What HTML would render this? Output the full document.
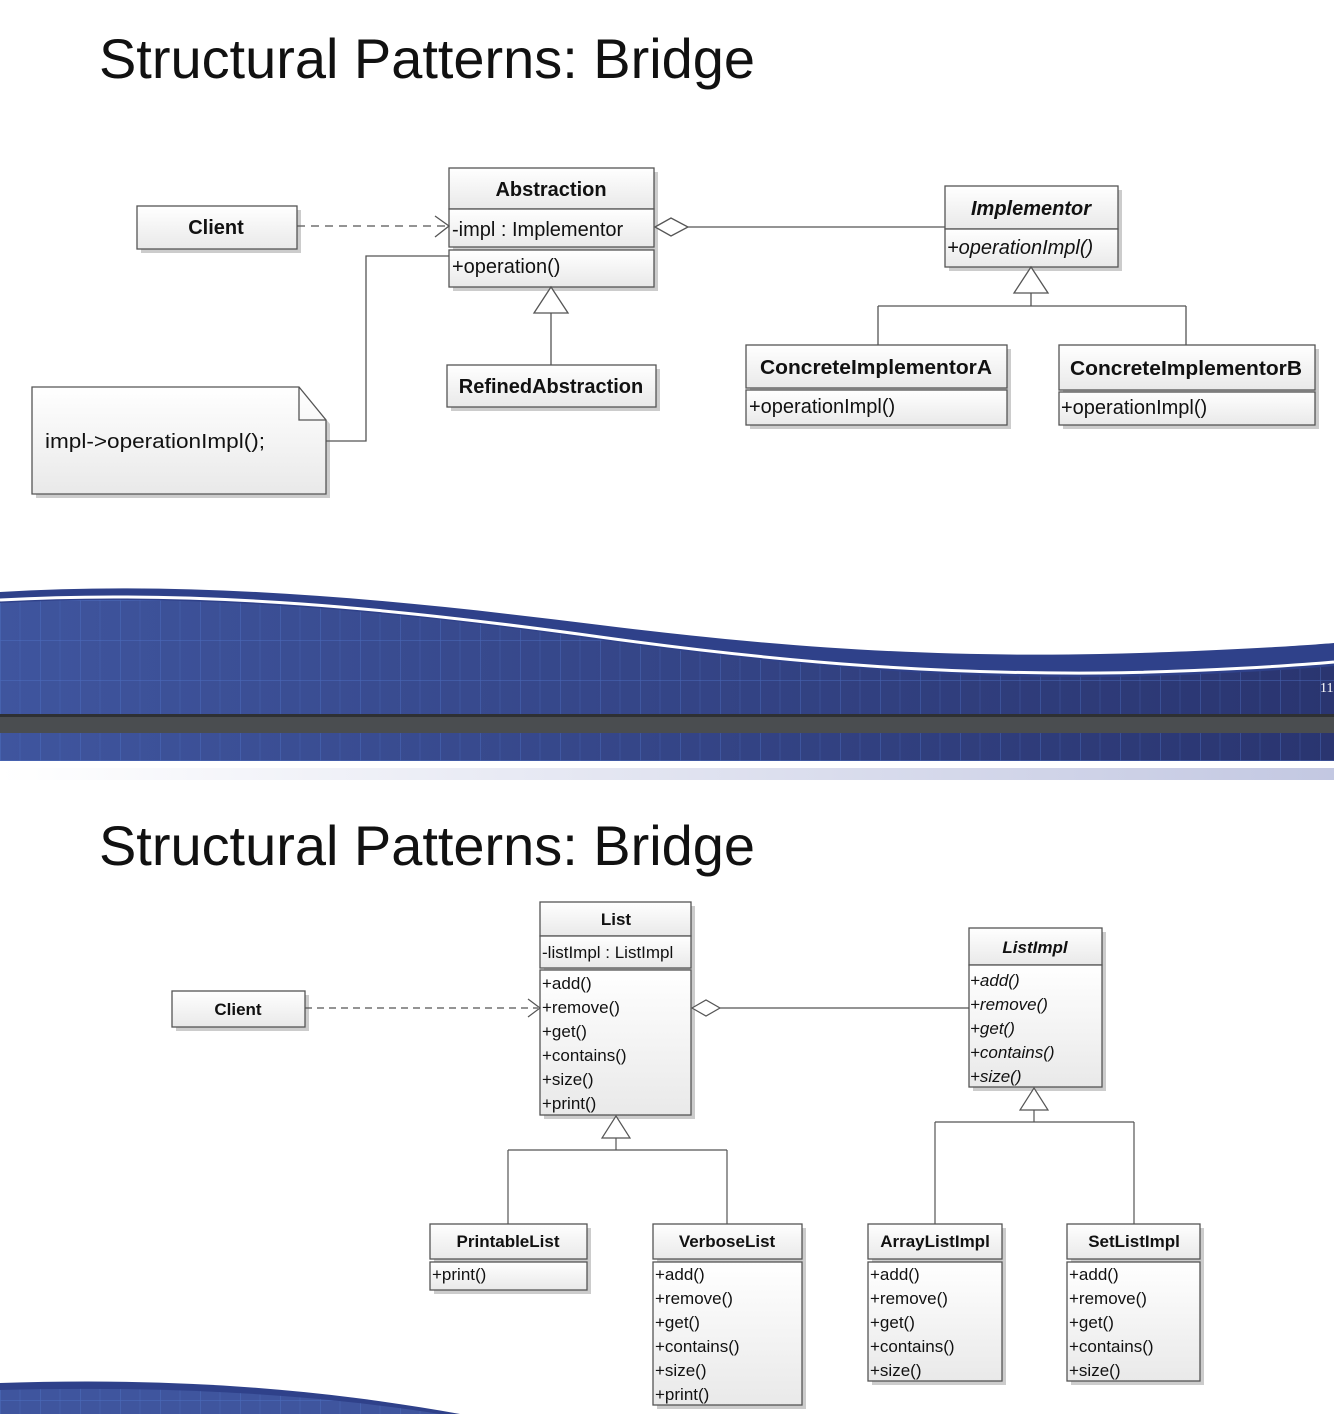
<!DOCTYPE html>
<html><head><meta charset="utf-8"><style>
html,body{margin:0;padding:0;background:#fff}
svg{display:block}
text{font-family:"Liberation Sans",sans-serif;fill:#111}
.b{font-weight:bold}
.i{font-style:italic}
</style></head><body>
<svg width="1334" height="1414" viewBox="0 0 1334 1414" xmlns="http://www.w3.org/2000/svg">
<defs>
<linearGradient id="bx" x1="0" y1="0" x2="0" y2="1"><stop offset="0" stop-color="#ffffff"/><stop offset="1" stop-color="#e9e9e9"/></linearGradient>
<linearGradient id="blu" x1="0" y1="0" x2="1" y2="0"><stop offset="0" stop-color="#3f559e"/><stop offset="1" stop-color="#2a3570"/></linearGradient>
<linearGradient id="fade" x1="0" y1="0" x2="1" y2="0"><stop offset="0" stop-color="#fff"/><stop offset="1" stop-color="#c3c8e2"/></linearGradient>
<pattern id="grid" width="40" height="40" patternUnits="userSpaceOnUse"><path d="M0 0V40M0 0H40" stroke="#5277cc" stroke-width="1.2" fill="none" opacity="0.6"/><path d="M20 0V40" stroke="#5277cc" stroke-width="0.6" fill="none" opacity="0.4"/></pattern>
</defs>

<text x="99" y="78" font-size="56" textLength="656" lengthAdjust="spacingAndGlyphs">Structural Patterns: Bridge</text>
<text x="99" y="865" font-size="56" textLength="656" lengthAdjust="spacingAndGlyphs">Structural Patterns: Bridge</text>

<path d="M0,592 C200,580 400,600 600,625 C800,650 950,657 1100,654 C1200,652 1300,646 1334,643 L1334,761 L0,761 Z" fill="#2f418a"/>
<path d="M0,603 C200,592 400,612 600,640 C800,668 950,678 1100,677 C1200,676 1300,669 1334,666 L1334,761 L0,761 Z" fill="url(#blu)"/>
<path d="M0,603 C200,592 400,612 600,640 C800,668 950,678 1100,677 C1200,676 1300,669 1334,666 L1334,761 L0,761 Z" fill="url(#grid)"/>
<path d="M0,600 C200,589 400,609 600,637 C800,665 950,674 1100,673 C1200,672 1300,665 1334,662" stroke="#fff" stroke-width="3" fill="none"/>
<rect x="0" y="714" width="1334" height="19" fill="#4a4d50"/>
<rect x="0" y="714" width="1334" height="3" fill="#2e3033"/>
<rect x="0" y="768" width="1334" height="12" fill="url(#fade)"/>
<text x="1320" y="692" font-size="14" style="font-family:'Liberation Serif',serif;fill:#fff">11</text>

<path d="M0,1383 C150,1378 300,1385 460,1414 L0,1414 Z" fill="#2f418a"/>
<path d="M0,1390 C150,1386 300,1392 440,1414 L0,1414 Z" fill="#3f559e"/>
<path d="M0,1390 C150,1386 300,1392 440,1414 L0,1414 Z" fill="url(#grid)"/>

<g stroke="#555" stroke-width="1.3" fill="url(#bx)">
<g fill="#ccc" stroke="none">
<rect x="141" y="210" width="160" height="43"/>
<rect x="453" y="172" width="205" height="119"/>
<rect x="949" y="190" width="173" height="81"/>
<rect x="451" y="369" width="209" height="42"/>
<rect x="750" y="349" width="261" height="80"/>
<rect x="1063" y="349" width="256" height="80"/>
<path d="M36,391 H303 L330,424 V498 H36 Z"/>
</g>
<rect x="137" y="206" width="160" height="43"/>
<rect x="449" y="168" width="205" height="41"/>
<rect x="449" y="209" width="205" height="38"/>
<rect x="449" y="250" width="205" height="37"/>
<rect x="945" y="186" width="173" height="43"/>
<rect x="945" y="229" width="173" height="38"/>
<rect x="447" y="365" width="209" height="42"/>
<rect x="746" y="345" width="261" height="43"/>
<rect x="746" y="390" width="261" height="35"/>
<rect x="1059" y="345" width="256" height="45"/>
<rect x="1059" y="392" width="256" height="33"/>
<path d="M32,387 H299 L326,420 V494 H32 Z"/>
<path d="M299,387 V420 H326" fill="none"/>
</g>

<g stroke="#555" stroke-width="1.3" fill="none">
<path d="M297,226 H447" stroke-dasharray="8,6"/>
<path d="M435,216 L449,226 L435,237"/>
<path d="M688,227 H945"/>
<path d="M655,227 L671,218 L688,227 L671,236 Z" fill="#fff"/>
<path d="M1031,293 V306 M878,306 H1186 M878,306 V345 M1186,306 V345"/>
<path d="M1031,267 L1048,293 L1014,293 Z" fill="#fff"/>
<path d="M551,313 V365"/>
<path d="M551,287 L568,313 L534,313 Z" fill="#fff"/>
<path d="M326,441 H366 V256 H449"/>
</g>

<text x="216" y="234" font-size="20" class="b" text-anchor="middle">Client</text>
<text x="551" y="196" font-size="20" class="b" text-anchor="middle">Abstraction</text>
<text x="452" y="236" font-size="20">-impl : Implementor</text>
<text x="452" y="273" font-size="20">+operation()</text>
<text x="1031" y="215" font-size="20" class="b i" text-anchor="middle">Implementor</text>
<text x="947" y="254" font-size="20" class="i">+operationImpl()</text>
<text x="551" y="393" font-size="20" class="b" text-anchor="middle">RefinedAbstraction</text>
<text x="876" y="374" font-size="20" class="b" text-anchor="middle" textLength="232" lengthAdjust="spacingAndGlyphs">ConcreteImplementorA</text>
<text x="749" y="413" font-size="20">+operationImpl()</text>
<text x="1186" y="375" font-size="20" class="b" text-anchor="middle" textLength="232" lengthAdjust="spacingAndGlyphs">ConcreteImplementorB</text>
<text x="1061" y="414" font-size="20">+operationImpl()</text>
<text x="45" y="448" font-size="20" textLength="220" lengthAdjust="spacingAndGlyphs">impl-&gt;operationImpl();</text>

<g stroke="#555" stroke-width="1.3" fill="url(#bx)">
<g fill="#ccc" stroke="none">
<rect x="176" y="995" width="133" height="36"/>
<rect x="544" y="906" width="151" height="213"/>
<rect x="973" y="932" width="133" height="159"/>
<rect x="434" y="1228" width="157" height="66"/>
<rect x="657" y="1228" width="149" height="181"/>
<rect x="872" y="1228" width="134" height="157"/>
<rect x="1071" y="1228" width="133" height="157"/>
</g>
<rect x="172" y="991" width="133" height="36"/>
<rect x="540" y="902" width="151" height="34"/>
<rect x="540" y="936" width="151" height="32"/>
<rect x="540" y="970" width="151" height="145"/>
<rect x="969" y="928" width="133" height="37"/>
<rect x="969" y="965" width="133" height="122"/>
<rect x="430" y="1224" width="157" height="35"/>
<rect x="430" y="1262" width="157" height="28"/>
<rect x="653" y="1224" width="149" height="35"/>
<rect x="653" y="1262" width="149" height="143"/>
<rect x="868" y="1224" width="134" height="35"/>
<rect x="868" y="1262" width="134" height="119"/>
<rect x="1067" y="1224" width="133" height="35"/>
<rect x="1067" y="1262" width="133" height="119"/>
</g>
<g stroke="#555" stroke-width="1.2" fill="none">
<path d="M305,1008 H538" stroke-dasharray="7,5"/>
<path d="M528,999 L540,1008 L528,1017"/>
<path d="M720,1008 H969"/>
<path d="M692,1008 L706,1000 L720,1008 L706,1016 Z" fill="#fff"/>
<path d="M1034,1110 V1122 M935,1122 H1134 M935,1122 V1224 M1134,1122 V1224"/>
<path d="M1034,1088 L1048,1110 L1020,1110 Z" fill="#fff"/>
<path d="M616,1138 V1150 M508,1150 H727 M508,1150 V1224 M727,1150 V1224"/>
<path d="M616,1116 L630,1138 L602,1138 Z" fill="#fff"/>
</g>
<g font-size="17">
<text x="238" y="1015" class="b" text-anchor="middle">Client</text>
<text x="616" y="925" class="b" text-anchor="middle">List</text>
<text x="542" y="958">-listImpl : ListImpl</text>
<text x="542" y="989">+add()</text>
<text x="542" y="1013">+remove()</text>
<text x="542" y="1037">+get()</text>
<text x="542" y="1061">+contains()</text>
<text x="542" y="1085">+size()</text>
<text x="542" y="1109">+print()</text>
<text x="1035" y="953" class="b i" text-anchor="middle">ListImpl</text>
<text x="970" y="986" class="i">+add()</text>
<text x="970" y="1010" class="i">+remove()</text>
<text x="970" y="1034" class="i">+get()</text>
<text x="970" y="1058" class="i">+contains()</text>
<text x="970" y="1082" class="i">+size()</text>
<text x="508" y="1247" class="b" text-anchor="middle">PrintableList</text>
<text x="432" y="1280">+print()</text>
<text x="727" y="1247" class="b" text-anchor="middle">VerboseList</text>
<text x="655" y="1280">+add()</text>
<text x="655" y="1304">+remove()</text>
<text x="655" y="1328">+get()</text>
<text x="655" y="1352">+contains()</text>
<text x="655" y="1376">+size()</text>
<text x="655" y="1400">+print()</text>
<text x="935" y="1247" class="b" text-anchor="middle">ArrayListImpl</text>
<text x="870" y="1280">+add()</text>
<text x="870" y="1304">+remove()</text>
<text x="870" y="1328">+get()</text>
<text x="870" y="1352">+contains()</text>
<text x="870" y="1376">+size()</text>
<text x="1134" y="1247" class="b" text-anchor="middle">SetListImpl</text>
<text x="1069" y="1280">+add()</text>
<text x="1069" y="1304">+remove()</text>
<text x="1069" y="1328">+get()</text>
<text x="1069" y="1352">+contains()</text>
<text x="1069" y="1376">+size()</text>
</g>
</svg>
</body></html>
